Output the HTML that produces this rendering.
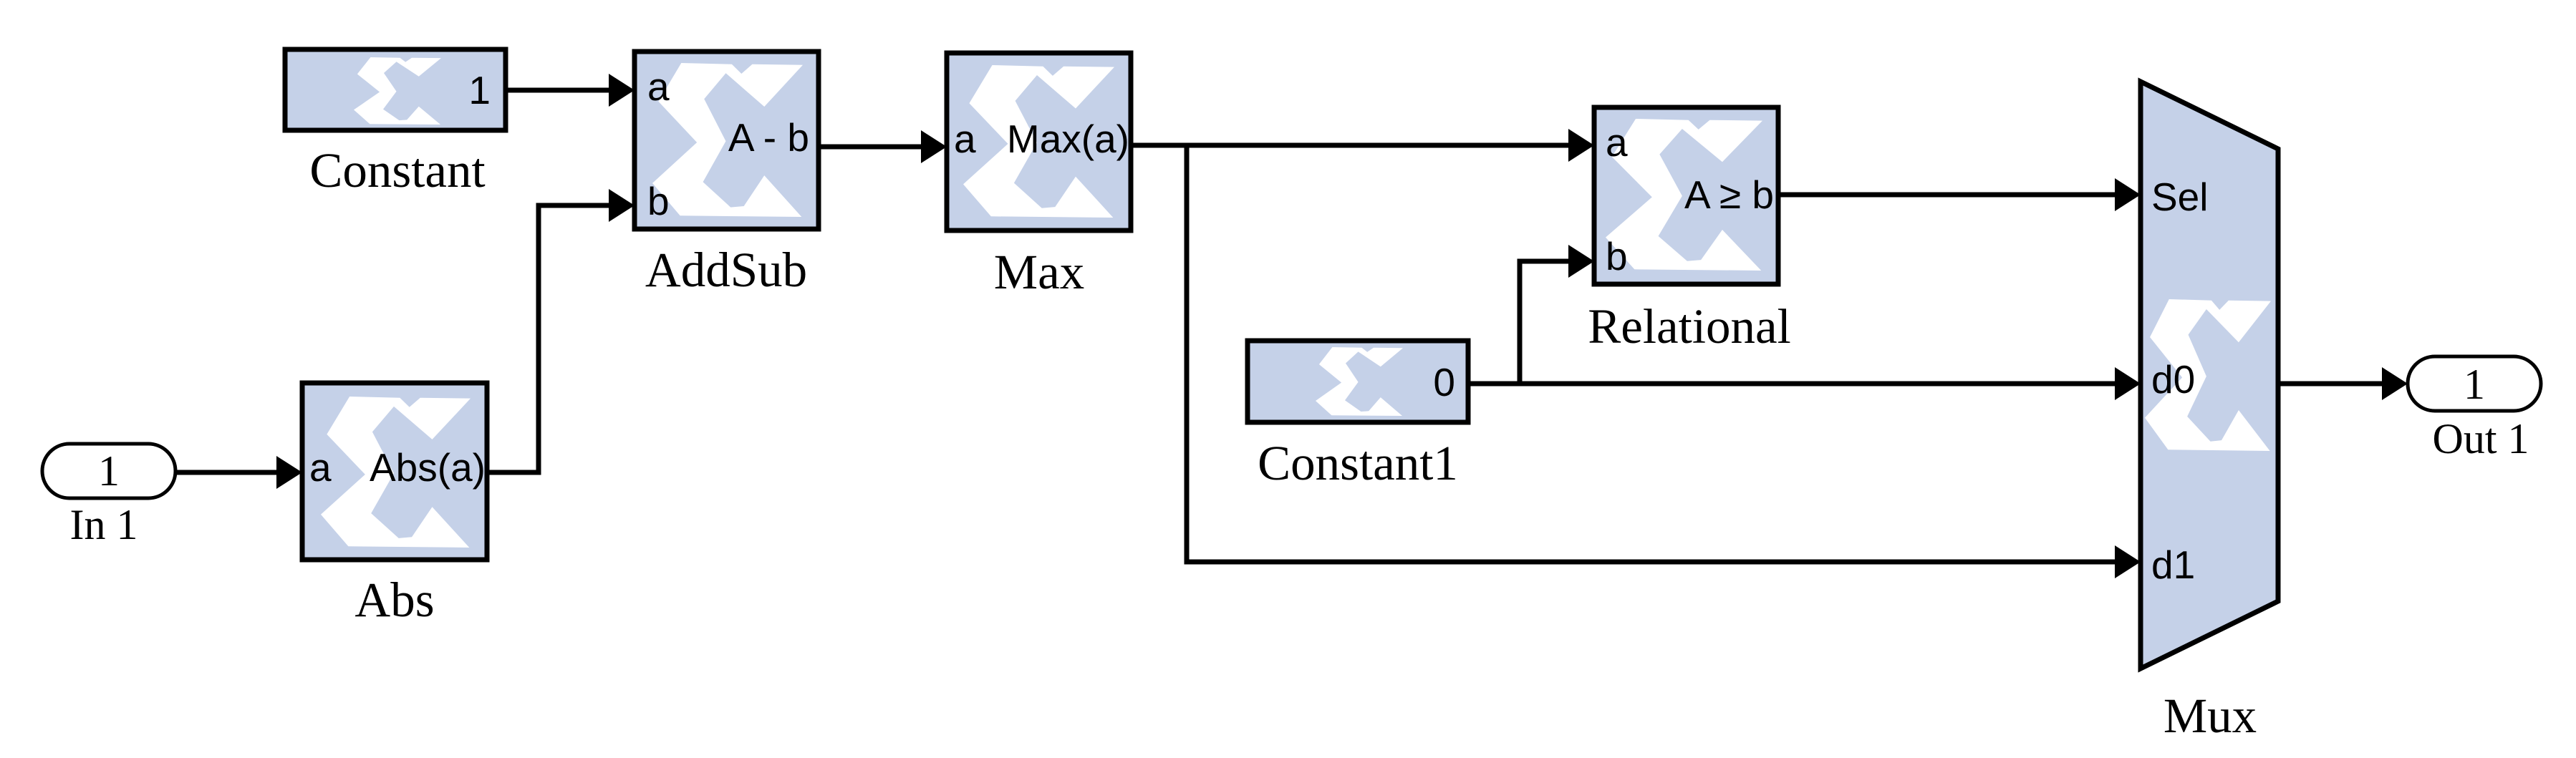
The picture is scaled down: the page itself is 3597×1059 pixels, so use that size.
<!DOCTYPE html>
<html><head><meta charset="utf-8"><style>
html,body{margin:0;padding:0;background:#fff;}
svg{display:block;}
.s{font-family:"Liberation Sans",sans-serif;font-size:55px;fill:#000;}
.t{font-family:"Liberation Serif",serif;font-size:69px;fill:#000;text-anchor:middle;}
.w{stroke:#000;stroke-width:7;fill:none;}
.b{fill:#c5d1e8;stroke:#000;stroke-width:7;}
</style></head><body>
<svg width="3597" height="1059" viewBox="0 0 3597 1059" xmlns="http://www.w3.org/2000/svg">
<defs>
<symbol id="x" viewBox="0 0 1 1" preserveAspectRatio="none">
<polygon fill="#fff" points="0.192,0 0.528,0.008 0.592,0.07 0.664,0.008 1,0.0125 0.744,0.284 0.488,0.066 0.344,0.234 0.488,0.508 0.336,0.773 0.52,0.9375 0.608,0.93 0.744,0.731 0.992,1 0.184,0.992 0,0.781 0.296,0.516 0.04,0.25"/>
</symbol>
</defs>

<g class="w">
<path d="M706 126 H856"/>
<path d="M245 660 H392"/>
<path d="M680 660 H752 V287 H856"/>
<path d="M1143 205 H1292"/>
<path d="M1579 203 H2196"/>
<path d="M1657 203 V785 H2959"/>
<path d="M2050 536 H2959"/>
<path d="M2122 536 V365 H2196"/>
<path d="M2483 272 H2959"/>
<path d="M3181 536 H3332"/>
</g>
<g fill="#000">
<polygon points="850,103 886,126 850,149"/>
<polygon points="850,264 886,287 850,310"/>
<polygon points="386,637 422,660 386,683"/>
<polygon points="1286,182 1322,205 1286,228"/>
<polygon points="2190,180 2226,203 2190,226"/>
<polygon points="2190,342 2226,365 2190,388"/>
<polygon points="2953,249 2989,272 2953,295"/>
<polygon points="2953,513 2989,536 2953,559"/>
<polygon points="2953,762 2989,785 2953,808"/>
<polygon points="3326,513 3362,536 3326,559"/>
</g>

<rect class="b" x="398" y="69" width="308" height="113"/>
<use href="#x" x="494" y="80" width="122" height="94"/>
<rect class="b" x="886" y="72" width="257" height="248"/>
<use href="#x" x="911" y="88" width="210" height="215"/>
<rect class="b" x="422" y="535" width="258" height="247"/>
<use href="#x" x="448" y="554" width="209" height="211"/>
<rect class="b" x="1322" y="74" width="257" height="248"/>
<use href="#x" x="1345" y="91" width="211" height="213"/>
<rect class="b" x="2226" y="150" width="257" height="247"/>
<use href="#x" x="2242" y="166" width="219" height="212"/>
<rect class="b" x="1742" y="476" width="308" height="114"/>
<use href="#x" x="1837" y="485" width="122" height="96"/>
<polygon class="b" points="2989,114 3181,208 3181,840 2989,934"/>
<use href="#x" x="2995" y="418" width="176" height="212"/>

<rect x="59" y="620" width="186" height="76" rx="38" ry="38" fill="#fff" stroke="#000" stroke-width="5"/>
<rect x="3362" y="498" width="186" height="76" rx="38" ry="38" fill="#fff" stroke="#000" stroke-width="5"/>
<text class="t" x="152" y="678" style="font-size:60px">1</text>
<text class="t" x="3455" y="557" style="font-size:60px">1</text>

<text class="s" x="685" y="145" text-anchor="end">1</text>
<text class="s" x="904" y="140">a</text>
<text class="s" x="904" y="300">b</text>
<text class="s" x="1130" y="211" text-anchor="end">A - b</text>
<text class="s" x="432" y="672">a</text>
<text class="s" x="678" y="672" text-anchor="end">Abs(a)</text>
<text class="s" x="1332" y="213">a</text>
<text class="s" x="1577" y="213" text-anchor="end">Max(a)</text>
<text class="s" x="2242" y="218">a</text>
<text class="s" x="2242" y="377">b</text>
<text class="s" x="2477" y="291" text-anchor="end">A ≥ b</text>
<text class="s" x="2032" y="553" text-anchor="end">0</text>
<text class="s" x="3004" y="294">Sel</text>
<text class="s" x="3004" y="549">d0</text>
<text class="s" x="3004" y="808">d1</text>

<text class="t" x="555" y="261">Constant</text>
<text class="t" x="1014" y="400">AddSub</text>
<text class="t" x="551" y="861">Abs</text>
<text class="t" x="145" y="753" style="font-size:60px">In 1</text>
<text class="t" x="1451" y="403">Max</text>
<text class="t" x="2359" y="479">Relational</text>
<text class="t" x="1896" y="670">Constant1</text>
<text class="t" x="3086" y="1023">Mux</text>
<text class="t" x="3464" y="633" style="font-size:60px">Out 1</text>
</svg>
</body></html>
